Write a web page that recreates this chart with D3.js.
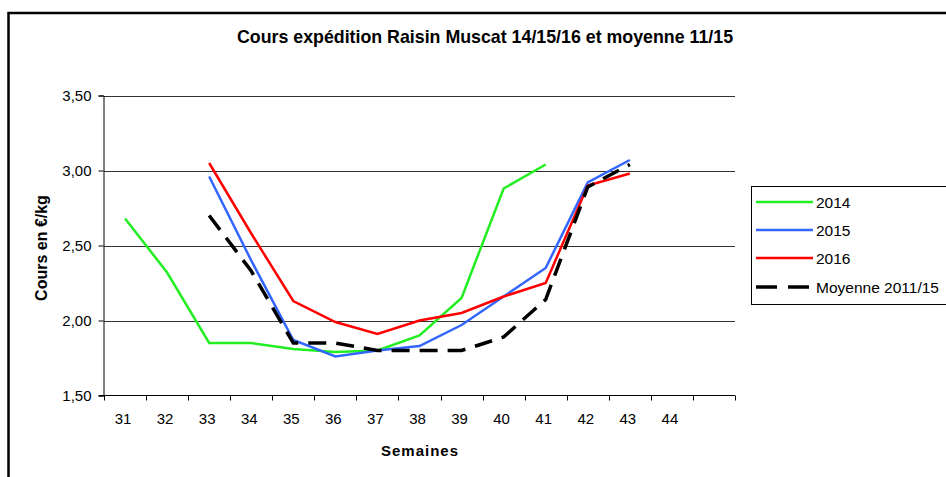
<!DOCTYPE html>
<html>
<head>
<meta charset="utf-8">
<script src="https://cdn.jsdelivr.net/npm/d3@7"></script>
<style>
  html, body { margin: 0; padding: 0; background: #fff; }
  svg { display: block; font-family: "Liberation Sans", Arial, sans-serif; }
</style>
</head>
<body>
<svg id="chart" width="946" height="477"></svg>
<script>
// ---- data ----
const weeks = [31, 32, 33, 34, 35, 36, 37, 38, 39, 40, 41, 42, 43, 44, 45];
const weekLabels = ["31", "32", "33", "34", "35", "36", "37", "38", "39", "40", "41", "42", "43", "44", ""];
const s2014 = [2.68, 2.32, 1.85, 1.85, 1.81, 1.79, 1.80, 1.90, 2.15, 2.88, 3.04, null, null, null, null];
const s2015 = [null, null, 2.96, 2.40, 1.87, 1.76, 1.80, 1.83, 1.97, 2.16, 2.35, 2.92, 3.07, null, null];
const s2016 = [null, null, 3.05, 2.58, 2.13, 1.99, 1.91, 2.00, 2.05, 2.16, 2.25, 2.90, 2.98, null, null];
const sMoy  = [null, null, 2.70, 2.33, 1.85, 1.85, 1.80, 1.80, 1.80, 1.89, 2.14, 2.89, 3.04, null, null];
const seriesNames = ["2014", "2015", "2016", "Moyenne 2011/15"];
const yTicks = [1.5, 2.0, 2.5, 3.0, 3.5];
const titleText = "Cours expédition Raisin Muscat 14/15/16 et moyenne 11/15";
const yTitle = "Cours en €/kg";
const xTitle = "Semaines";

// ---- layout ----
const svg = d3.select("#chart");
const pLeft = 104, pRight = 735, pTop = 95.5, pBottom = 395.5;

const x = d3.scaleBand().domain(weeks).range([pLeft, pRight]).padding(0);
const y = d3.scaleLinear().domain([1.5, 3.5]).range([pBottom, pTop]);
const fr = d3.formatLocale({decimal: ",", thousands: " ", grouping: [3], currency: ["", "€"]});
const fmt = fr.format(".2f");

// outer frame
svg.append("rect").attr("x", 8.5).attr("y", 13).attr("width", 1000).attr("height", 600)
  .attr("fill", "none").attr("stroke", "#000").attr("stroke-width", 2.5);

// title
svg.append("text").attr("x", 485).attr("y", 43).attr("text-anchor", "middle")
  .attr("font-size", 17.8).attr("font-weight", "bold").text(titleText);

// gridlines
svg.append("g").selectAll("line").data(yTicks.filter(d => d > 1.5)).join("line")
  .attr("x1", pLeft).attr("x2", pRight)
  .attr("y1", d => Math.round(y(d)) + 0.5).attr("y2", d => Math.round(y(d)) + 0.5)
  .attr("stroke", "#333").attr("stroke-width", 1);

// y axis
const yAxis = d3.axisLeft(y).tickValues(yTicks).tickFormat(fmt).tickSize(5).tickPadding(7);
const gy = svg.append("g").attr("transform", `translate(${pLeft - 0.5},0)`).call(yAxis);
gy.select(".domain").attr("stroke", "#000");
gy.selectAll(".tick line").attr("stroke", "#000");
gy.selectAll("text").attr("font-size", 15).attr("font-family", "Liberation Sans, Arial, sans-serif").attr("fill", "#000");

// x axis line
svg.append("line").attr("x1", pLeft - 5).attr("x2", pRight).attr("y1", pBottom).attr("y2", pBottom)
  .attr("stroke", "#000").attr("stroke-width", 1);
// x ticks at band boundaries
const bounds = weeks.map(w => x(w)).concat([x.range()[1]]);
svg.append("g").selectAll("line").data(bounds).join("line")
  .attr("x1", d => Math.round(d) + 0.5).attr("x2", d => Math.round(d) + 0.5)
  .attr("y1", pBottom).attr("y2", pBottom + 5).attr("stroke", "#000");
// x labels
svg.append("g").selectAll("text").data(weeks).join("text")
  .attr("x", d => x(d) + x.bandwidth() / 2 - 2).attr("y", 424)
  .attr("text-anchor", "middle").attr("font-size", 15)
  .text((d, i) => weekLabels[i]);

// axis titles
svg.append("text").attr("transform", "translate(47,248) rotate(-90)")
  .attr("text-anchor", "middle").attr("font-size", 16).attr("font-weight", "bold").text(yTitle);
svg.append("text").attr("x", 420).attr("y", 456).attr("text-anchor", "middle")
  .attr("font-size", 15).attr("font-weight", "bold").attr("letter-spacing", 1).text(xTitle);

// lines
const cx = (i) => x(weeks[i]) + x.bandwidth() / 2;
const line = d3.line().defined(d => d != null).x((d, i) => cx(i)).y(d => y(d));
const styles = [
  {data: s2014, color: "#22ee22", width: 2.5, dash: null},
  {data: s2015, color: "#3366ff", width: 2.5, dash: null},
  {data: s2016, color: "#ff0000", width: 2.5, dash: null},
  {data: sMoy,  color: "#000000", width: 3.5, dash: "18,10"}
];
styles.forEach(s => {
  svg.append("path").datum(s.data).attr("d", line)
    .attr("fill", "none").attr("stroke", s.color).attr("stroke-width", s.width)
    .attr("stroke-dasharray", s.dash).attr("stroke-linejoin", "miter");
});

// legend
const lg = svg.append("g");
lg.append("rect").attr("x", 751.5).attr("y", 186.5).attr("width", 300).attr("height", 118)
  .attr("fill", "#fff").attr("stroke", "#000").attr("stroke-width", 1);
const rowY = [202, 230, 258, 287];
styles.forEach((s, i) => {
  lg.append("line").attr("x1", 756).attr("x2", 813).attr("y1", rowY[i]).attr("y2", rowY[i])
    .attr("stroke", s.color).attr("stroke-width", s.width).attr("stroke-dasharray", s.dash ? "21,11" : null);
  lg.append("text").attr("x", 816).attr("y", rowY[i] + 5.5).attr("font-size", 15.5).text(seriesNames[i]);
});
</script>
</body>
</html>
